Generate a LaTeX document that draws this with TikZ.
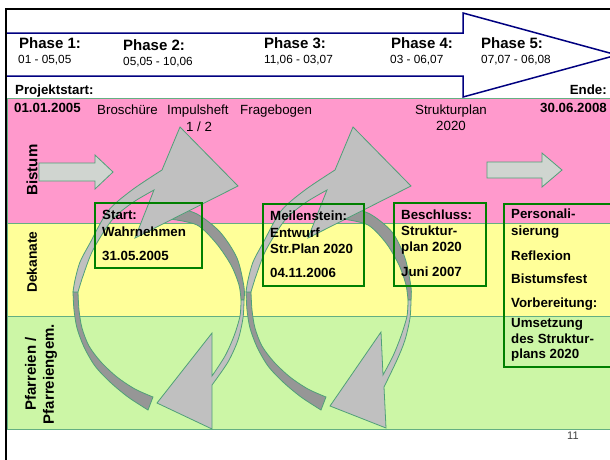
\documentclass[tikz,border=0pt]{standalone}
\usepackage{fontspec}
\setmainfont{Liberation Sans}
\definecolor{pinkband}{RGB}{255,153,204}
\definecolor{yelband}{RGB}{255,255,153}
\definecolor{grnband}{RGB}{204,246,166}
\definecolor{bandline}{RGB}{100,175,130}
\definecolor{shapeline}{RGB}{80,160,120}
\definecolor{navyline}{RGB}{0,0,128}
\definecolor{boxgreen}{RGB}{0,128,0}
\definecolor{headgray}{RGB}{192,192,192}
\definecolor{tailgray}{RGB}{150,150,150}
\definecolor{blockfill}{RGB}{208,213,208}
\tikzset{
 ttl/.style={font=\fontsize{15}{18}\selectfont\bfseries, anchor=base west, inner sep=0},
 dte/.style={font=\fontsize{11.8}{14}\selectfont, anchor=base west, inner sep=0},
 lbl/.style={font=\fontsize{13.3}{16}\selectfont\bfseries, anchor=base west, inner sep=0},
 reg/.style={font=\fontsize{13.3}{16}\selectfont, anchor=base west, inner sep=0},
 rot/.style={font=\fontsize{15}{18}\selectfont\bfseries, rotate=90, inner sep=0, align=center},
 gbox/.style={draw=boxgreen, line width=2.2, anchor=north west, inner sep=0},
 bandrect/.style={draw=bandline, line width=0.8},
 blockarrow/.style={fill=blockfill, draw=shapeline, line width=0.8},
 headpart/.style={fill=headgray, draw=shapeline, line width=0.8},
 tailpart/.style={fill=tailgray, draw=shapeline, line width=0.8},
}
\begin{document}
\begin{tikzpicture}[x=1pt,y=-1pt]
\useasboundingbox (0,0) rectangle (610,459);
\fill[white] (0,0) rectangle (610,459);
% bands
\path[bandrect, fill=pinkband] (7,98) rectangle (613,223);
\path[bandrect, fill=yelband] (7,223) rectangle (613,316);
\path[bandrect, fill=grnband] (7,316) rectangle (613,429);
% big phase arrow
\draw[navyline, line width=1.5, fill=white] (6,33) -- (463,33) -- (463,13) -- (617,55) -- (463,97) -- (463,76) -- (6,76);
% frame
\draw[black, line width=2.3] (6,460) -- (6,9) -- (612,9);
% header texts
\node[ttl] (p1t) at (19,48) {Phase 1:};
\node[dte] (p1d) at (18,63) {01 - 05,05};
\node[ttl] (p2t) at (123,50) {Phase 2:};
\node[dte] (p2d) at (123,65) {05,05 - 10,06};
\node[ttl] (p3t) at (264,48) {Phase 3:};
\node[dte] (p3d) at (264,63) {11,06 - 03,07};
\node[ttl] (p4t) at (391,48) {Phase 4:};
\node[dte] (p4d) at (390,63) {03 - 06,07};
\node[ttl] (p5t) at (481,48) {Phase 5:};
\node[dte] (p5d) at (481,63) {07,07 - 06,08};
\node[lbl] (proj) at (15,94) {Projektstart:};
\node[lbl, anchor=base east] (ende) at (607,94) {Ende:};
\node[lbl] (sdate) at (14,112) {01.01.2005};
\node[lbl, anchor=base east] (edate) at (607,112) {30.06.2008};
\node[reg] (brosch) at (97,114) {Broschüre};
\node[reg] (impuls) at (167,114) {Impulsheft};
\node[reg, anchor=base] (impuls2) at (199,131) {1 / 2};
\node[reg] (frage) at (240,114) {Fragebogen};
\node[reg, anchor=base] (struk) at (451,114) {Strukturplan};
\node[reg, anchor=base] (struk2) at (451,130) {2020};
% lane labels
\node[rot] (bistum) at (32,170) {Bistum};
\node[rot, font=\fontsize{13.8}{18}\selectfont\bfseries] (dekan) at (32,262) {Dekanate};
\node[rot] (pfarr) at (41,374) {Pfarreien /\\Pfarreiengem.};
% block arrows
\draw[blockarrow] (39,163) -- (95,163) -- (95,155) -- (113,172) -- (95,189) -- (95,181) -- (39,181) -- cycle;
\draw[blockarrow] (487,162) -- (542,162) -- (542,153) -- (562,170) -- (542,187) -- (542,178) -- (487,178) -- cycle;
% cycle 1
\draw[tailpart] plot[smooth] coordinates {(172,206) (197,214) (220,232) (237,258) (244,287) (244,300)} -- plot[smooth] coordinates {(241,300) (239,285) (231,265) (216,243) (197,225) (170,219)} -- cycle;
\draw[headpart] plot[smooth] coordinates {(244,300) (243,318) (238,340) (228,362) (212,385)} -- (212,429) -- (157,403) -- (212,333) -- (212,376) -- plot[smooth] coordinates {(212,376) (225,356) (234,336) (240,316) (241,300)} -- cycle;
\draw[tailpart] plot[smooth] coordinates {(148,410) (128,397) (110,382) (95,366) (84,347) (77,328) (74,310) (73,292)} -- plot[smooth] coordinates {(78,292) (79,310) (82,328) (89,346) (101,362) (117,377) (135,389) (153,397)} -- cycle;
\draw[headpart] plot[smooth] coordinates {(73,292) (75,280) (80,262) (90,243) (108,211) (132,190) (162,170)} -- (180,127) -- (238,186) -- (135,238) -- (154,190) -- plot[smooth] coordinates {(154,190) (132,203) (112,220) (93,250) (83,276) (78,292)} -- cycle;
% cycle 2
\draw[tailpart] plot[smooth] coordinates {(345,206) (370,214) (392,232) (405,258) (411,287) (411,300)} -- plot[smooth] coordinates {(408,300) (406,285) (399,265) (386,243) (368,225) (343,219)} -- cycle;
\draw[headpart] plot[smooth] coordinates {(411,300) (410,318) (405,340) (397,360) (384,387)} -- (386,428) -- (330,406) -- (381,332) -- (383,375) -- plot[smooth] coordinates {(383,375) (393,356) (401,336) (407,316) (408,300)} -- cycle;
\begin{scope}[xshift=173pt]
\draw[tailpart] plot[smooth] coordinates {(148,410) (128,397) (110,382) (95,366) (84,347) (77,328) (74,310) (73,292)} -- plot[smooth] coordinates {(78,292) (79,310) (82,328) (89,346) (101,362) (117,377) (135,389) (153,397)} -- cycle;
\draw[headpart] plot[smooth] coordinates {(73,292) (75,280) (80,262) (90,243) (108,211) (132,190) (162,170)} -- (180,127) -- (238,186) -- (135,238) -- (154,190) -- plot[smooth] coordinates {(154,190) (132,203) (112,220) (93,250) (83,276) (78,292)} -- cycle;
\end{scope}
% milestone boxes
\node[gbox, minimum width=107, minimum height=65] (b1) at (94,202) {};
\node[gbox, minimum width=101, minimum height=82] (b2) at (262,203) {};
\node[gbox, minimum width=92, minimum height=83] (b3) at (393,202) {};
\node[gbox, minimum width=108, minimum height=163] (b4) at (503,203) {};
\node[lbl] (b1a) at (102,219) {Start:};
\node[lbl] (b1b) at (102,236) {Wahrnehmen};
\node[lbl] (b1c) at (102,260) {31.05.2005};
\node[lbl] (b2a) at (270,220) {Meilenstein:};
\node[lbl] (b2b) at (270,237) {Entwurf};
\node[lbl] (b2c) at (270,253) {Str.Plan 2020};
\node[lbl] (b2d) at (270,277) {04.11.2006};
\node[lbl] (b3a) at (401,219) {Beschluss:};
\node[lbl] (b3b) at (401,235) {Struktur-};
\node[lbl] (b3c) at (401,251) {plan 2020};
\node[lbl] (b3d) at (401,276) {Juni 2007};
\node[lbl] (b4a) at (511,218) {Personali-};
\node[lbl] (b4b) at (511,235) {sierung};
\node[lbl] (b4c) at (511,260) {Reflexion};
\node[lbl] (b4d) at (511,283) {Bistumsfest};
\node[lbl] (b4e) at (511,307) {Vorbereitung:};
\node[lbl] (b4f) at (511,327) {Umsetzung};
\node[lbl] (b4g) at (511,343) {des Struktur-};
\node[lbl] (b4h) at (511,358) {plans 2020};
\node[font=\fontsize{11}{13}\selectfont, text=black!75, anchor=base west, inner sep=0] (pg) at (567,439) {11};
\end{tikzpicture}
\end{document}
